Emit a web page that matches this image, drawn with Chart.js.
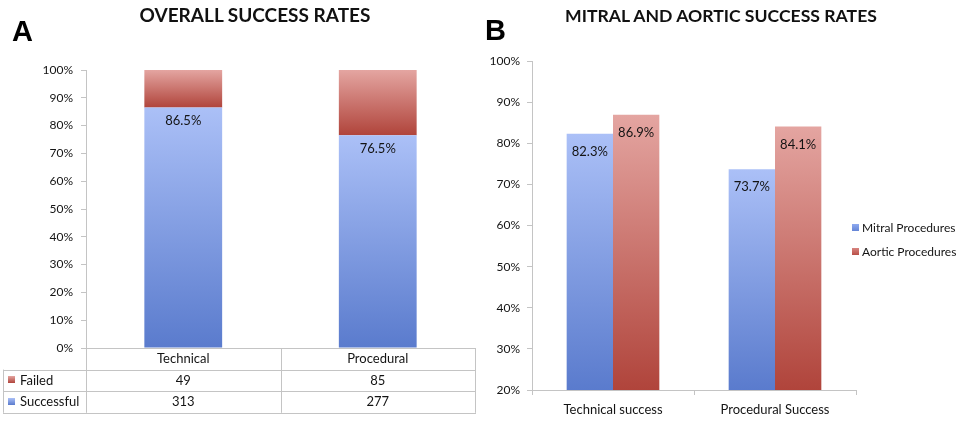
<!DOCTYPE html>
<html>
<head>
<meta charset="utf-8">
<script src="https://cdn.jsdelivr.net/npm/chart.js@4.4.1/dist/chart.umd.min.js"></script>
<style>
  body { margin: 0; background: #fff; }
  #wrap { position: relative; width: 959px; height: 422px; overflow: hidden; }
  canvas { position: absolute; top: 0; }
  .tag { position: absolute; font: bold 29px/29px "Liberation Sans", Arial, sans-serif; color: #000; }
  .ttl { position: absolute; font: bold 18px/18px Lato, sans-serif; color: #111; text-align: center; white-space: nowrap; }
</style>
</head>
<body>
<div id="wrap">
  <canvas id="chartA" width="480" height="422" style="left:0"></canvas>
  <canvas id="chartB" width="479" height="422" style="left:480px"></canvas>
  <div class="tag" style="left:12px;top:17px">A</div>
  <div class="tag" style="left:485px;top:16px">B</div>
  <div class="ttl" style="left:55px;width:400px;top:6px;font-size:19px">OVERALL SUCCESS RATES</div>
  <div class="ttl" style="left:521px;width:400px;top:7px;font-size:17.6px">MITRAL AND AORTIC SUCCESS RATES</div>
</div>
<script>
// panel A data
const overallCategories = ['Technical', 'Procedural'];
const successfulPct = [86.5, 76.5];
const failedPct = [13.5, 23.5];
const successfulCount = [313, 277];
const failedCount = [49, 85];
const ticksA = [0, 10, 20, 30, 40, 50, 60, 70, 80, 90, 100];

// panel B data
const procedureCategories = ['Technical success', 'Procedural Success'];
const mitralPct = [82.3, 73.7];
const aorticPct = [86.9, 84.1];
const ticksB = [20, 30, 40, 50, 60, 70, 80, 90, 100];

const BLUE = ['#abc0f7', '#5a7bcd'];
const RED = ['#e4a5a1', '#b0443b'];
const LINE = '#c4c4c4';
const TEXT = '#141414';
const FONT = 'Lato, sans-serif';

// vertical gradient over each bar, light on top
function barFill(colors, baseFn, topFn) {
  return function (c) {
    const chart = c.chart;
    const y = chart.scales.y;
    if (c.type !== 'data' || !chart.chartArea || !y) return colors[1];
    const top = y.getPixelForValue(topFn(c.dataIndex));
    const bottom = y.getPixelForValue(baseFn(c.dataIndex, y));
    if (!isFinite(top) || !isFinite(bottom)) return colors[1];
    const g = chart.ctx.createLinearGradient(0, top, 0, bottom);
    g.addColorStop(0, colors[0]);
    g.addColorStop(1, colors[1]);
    return g;
  };
}

function swatch(ctx, x, y, colors) {
  const g = ctx.createLinearGradient(0, y, 0, y + 7);
  g.addColorStop(0, colors[0]);
  g.addColorStop(1, colors[1]);
  ctx.fillStyle = g;
  ctx.fillRect(x, y, 7, 7);
}

const barLabels = {
  id: 'barLabels',
  afterDatasetsDraw(chart, args, opts) {
    const ctx = chart.ctx;
    ctx.save();
    ctx.font = '13px ' + FONT;
    ctx.fillStyle = TEXT;
    ctx.textAlign = 'center';
    ctx.textBaseline = 'middle';
    opts.datasets.forEach(di => {
      const ds = chart.data.datasets[di];
      chart.getDatasetMeta(di).data.forEach((bar, i) => {
        ctx.fillText(ds.data[i].toFixed(1) + '%', bar.x, bar.y + opts.offset);
      });
    });
    ctx.restore();
  }
};

// data table under panel A
const dataTable = {
  id: 'dataTable',
  afterDraw(chart) {
    const ctx = chart.ctx;
    const area = chart.chartArea;
    const x = chart.scales.x;
    const rows = [
      { name: 'Failed', colors: RED, values: failedCount },
      { name: 'Successful', colors: BLUE, values: successfulCount }
    ];
    const rowH = 21.6;
    const top = area.bottom;
    const bottom = top + rowH * 3;
    const half = (area.right - area.left) / overallCategories.length / 2;
    ctx.save();
    ctx.strokeStyle = LINE;
    ctx.lineWidth = 1;
    ctx.beginPath();
    const cols = [area.left];
    overallCategories.forEach((c, i) => cols.push(x.getPixelForValue(i) + half));
    cols.forEach(cx => {
      ctx.moveTo(Math.round(cx) + 0.5, top);
      ctx.lineTo(Math.round(cx) + 0.5, bottom);
    });
    ctx.moveTo(3.5, top + rowH);
    ctx.lineTo(3.5, bottom);
    for (let r = 1; r <= 3; r++) {
      const yy = Math.round(top + rowH * r) + 0.5;
      ctx.moveTo(3, yy);
      ctx.lineTo(Math.round(area.right) + 1, yy);
    }
    ctx.stroke();

    ctx.font = '13px ' + FONT;
    ctx.fillStyle = TEXT;
    ctx.textBaseline = 'middle';
    rows.forEach((row, r) => {
      const cy = top + rowH * (r + 1.5);
      swatch(ctx, 8, Math.round(cy) - 4, row.colors);
      ctx.fillStyle = TEXT;
      ctx.textAlign = 'left';
      ctx.fillText(row.name, 20, cy);
      ctx.textAlign = 'center';
      row.values.forEach((v, i) => ctx.fillText(String(v), x.getPixelForValue(i), cy));
    });
    ctx.restore();
  }
};

const sideLegend = {
  id: 'sideLegend',
  afterDraw(chart) {
    const ctx = chart.ctx;
    ctx.save();
    ctx.font = '12px ' + FONT;
    ctx.textBaseline = 'middle';
    ctx.textAlign = 'left';
    chart.data.datasets.forEach((ds, i) => {
      const cy = 228 + i * 24;
      swatch(ctx, 372, cy - 4, ds.swatch);
      ctx.fillStyle = TEXT;
      ctx.fillText(ds.label, 382, cy);
    });
    ctx.restore();
  }
};

function yAxis(ticks, width, padding) {
  return {
    min: ticks[0],
    max: ticks[ticks.length - 1],
    afterBuildTicks: s => { s.ticks = ticks.map(v => ({ value: v })); },
    afterFit: s => { s.width = width; },
    grid: { drawOnChartArea: false, drawTicks: true, tickLength: 5, color: LINE },
    border: { color: LINE },
    ticks: { padding: padding, color: TEXT, font: { family: FONT, size: 12 }, callback: v => v + '%' }
  };
}

new Chart(document.getElementById('chartA'), {
  type: 'bar',
  data: {
    labels: overallCategories,
    datasets: [
      {
        label: 'Successful',
        data: successfulPct,
        backgroundColor: barFill(BLUE, () => 0, i => successfulPct[i]),
        categoryPercentage: 0.4,
        barPercentage: 1
      },
      {
        label: 'Failed',
        data: failedPct,
        backgroundColor: barFill(RED, i => successfulPct[i], i => successfulPct[i] + failedPct[i]),
        categoryPercentage: 0.4,
        barPercentage: 1
      }
    ]
  },
  options: {
    responsive: false,
    animation: false,
    layout: { padding: { top: 70, right: 5, bottom: 53, left: 0 } },
    plugins: {
      legend: { display: false },
      tooltip: { enabled: false },
      barLabels: { datasets: [0], offset: 13 }
    },
    scales: {
      x: {
        stacked: true,
        afterFit: s => { s.height = 21; },
        grid: { display: false, drawTicks: false },
        border: { color: LINE },
        ticks: { padding: 3, color: TEXT, font: { family: FONT, size: 13 }, maxRotation: 0 }
      },
      y: Object.assign(yAxis(ticksA, 86, 8), { stacked: true })
    }
  },
  plugins: [barLabels, dataTable]
});

new Chart(document.getElementById('chartB'), {
  type: 'bar',
  data: {
    labels: procedureCategories,
    datasets: [
      {
        label: 'Mitral Procedures',
        data: mitralPct,
        swatch: ['#8eaaf0', '#6585d6'],
        backgroundColor: barFill(BLUE, (i, y) => y.min, i => mitralPct[i]),
        categoryPercentage: 0.572,
        barPercentage: 1
      },
      {
        label: 'Aortic Procedures',
        data: aorticPct,
        swatch: ['#d88580', '#b84f47'],
        backgroundColor: barFill(RED, (i, y) => y.min, i => aorticPct[i]),
        categoryPercentage: 0.572,
        barPercentage: 1
      }
    ]
  },
  options: {
    responsive: false,
    animation: false,
    layout: { padding: { top: 61, right: 103, bottom: 0, left: 0 } },
    plugins: {
      legend: { display: false },
      tooltip: { enabled: false },
      barLabels: { datasets: [0, 1], offset: 18 }
    },
    scales: {
      x: {
        afterFit: s => { s.height = 32; },
        grid: { drawOnChartArea: false, drawTicks: true, tickLength: 5, color: LINE },
        border: { color: LINE },
        ticks: { padding: 7, color: TEXT, font: { family: FONT, size: 13 }, maxRotation: 0 }
      },
      y: yAxis(ticksB, 52, 7)
    }
  },
  plugins: [barLabels, sideLegend]
});
</script>
</body>
</html>
